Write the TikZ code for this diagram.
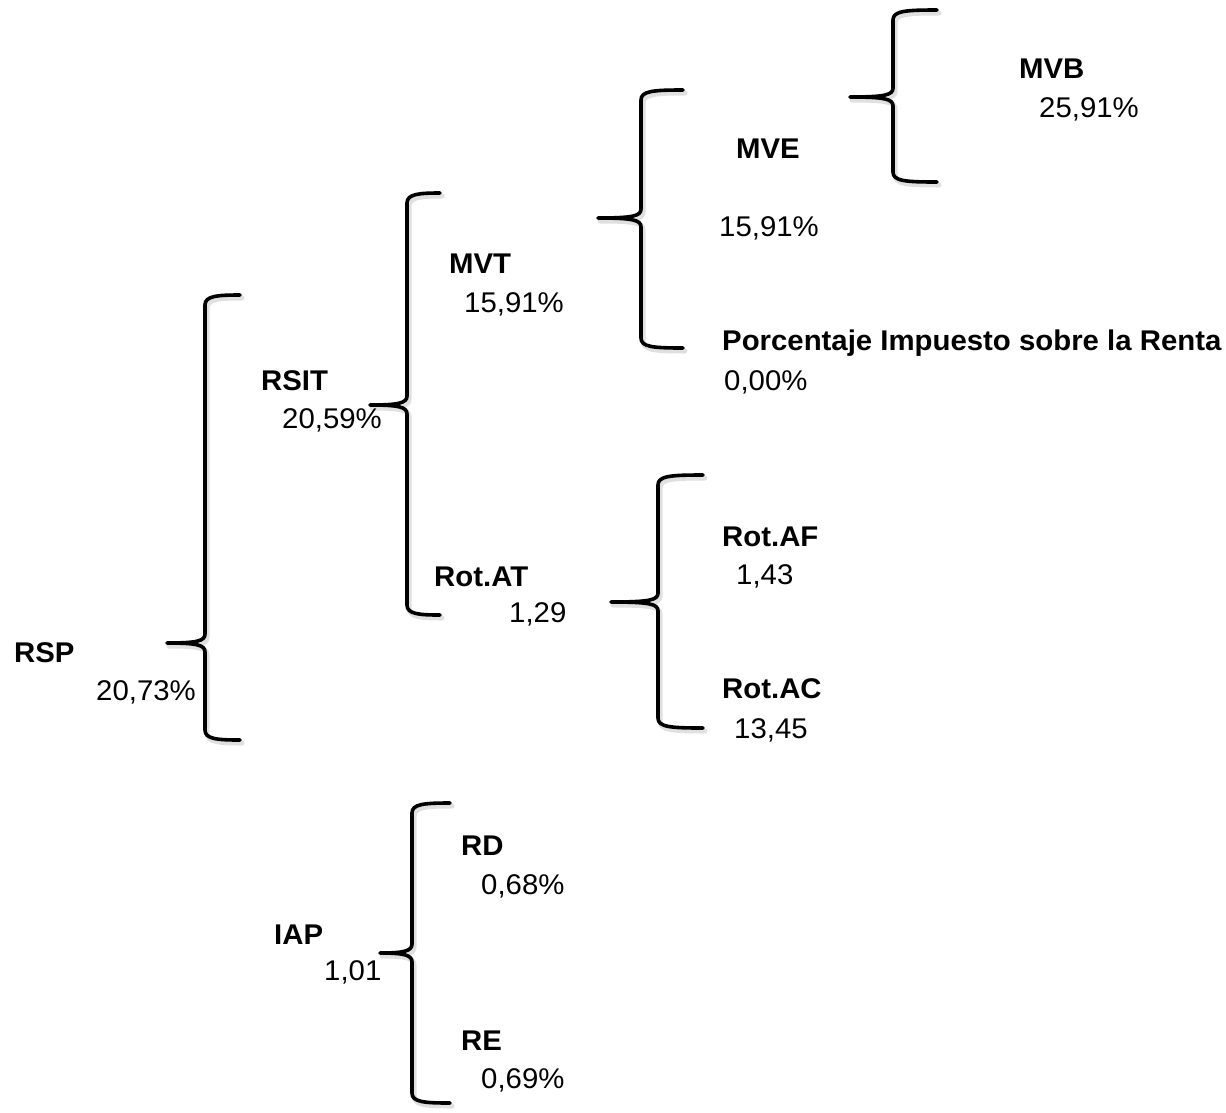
\documentclass[tikz,border=0pt]{standalone}
\usepackage{fontspec}
\setmainfont[FakeStretch=1.03]{Liberation Sans}
\usetikzlibrary{positioning}

% brace: x, y top, y cusp, y bottom, x cusp, x tip
\newcommand{\llave}[6]{%
  \draw[brace shadow] (#6,#2) .. controls (#1+12,#2) and (#1,#2+1) .. (#1,#2+10) -- (#1,#3-9)
    .. controls (#1,#3-2) and (#1-8,#3) .. (#5,#3)
    .. controls (#1-8,#3) and (#1,#3+2) .. (#1,#3+9) -- (#1,#4-10)
    .. controls (#1,#4-1) and (#1+12,#4) .. (#6,#4);
  \draw[brace] (#6,#2) .. controls (#1+12,#2) and (#1,#2+1) .. (#1,#2+10) -- (#1,#3-9)
    .. controls (#1,#3-2) and (#1-8,#3) .. (#5,#3)
    .. controls (#1-8,#3) and (#1,#3+2) .. (#1,#3+9) -- (#1,#4-10)
    .. controls (#1,#4-1) and (#1+12,#4) .. (#6,#4);
}

\begin{document}
\begin{tikzpicture}[
    x=1pt, y=-1pt,
    brace/.style={draw=black, line width=3.6pt, line cap=round, line join=round},
    brace shadow/.style={draw=black!12, line width=5pt, line cap=round, line join=round, shift={(2,3)}},
    ratio/.style={anchor=base west, inner sep=0pt, font=\fontsize{28.5}{33}\selectfont\bfseries},
    figure/.style={anchor=base west, inner sep=0pt, font=\fontsize{28.5}{33}\selectfont}
]
\useasboundingbox (0,0) rectangle (1226,1112);

% Braces
\llave{205}{295}{643}{740}{167}{240}
\llave{407}{193}{405}{615}{370}{440}
\llave{641}{90}{218}{348}{598}{683}
\llave{893}{10}{97}{182}{850}{937}
\llave{658}{475}{602}{728}{611}{703}
\llave{412}{803}{953}{1103}{380}{450}

% Level 0
\node[ratio] (rsp) at (14,662) {RSP};
\node[figure] (rspv) at (96,700) {20,73\%};

% Level 1
\node[ratio] (rsit) at (261,390) {RSIT};
\node[figure] (rsitv) at (282,428) {20,59\%};
\node[ratio] (iap) at (274,944) {IAP};
\node[figure] (iapv) at (324,980) {1,01};

% Level 2
\node[ratio] (mvt) at (449,273) {MVT};
\node[figure] (mvtv) at (464,312) {15,91\%};
\node[ratio] (rotat) at (434,586) {Rot.AT};
\node[figure] (rotatv) at (509,622) {1,29};
\node[ratio] (rd) at (461,855) {RD};
\node[figure] (rdv) at (481,894) {0,68\%};
\node[ratio] (re) at (461,1050) {RE};
\node[figure] (rev) at (481,1088) {0,69\%};

% Level 3
\node[ratio] (mve) at (736,158) {MVE};
\node[figure] (mvev) at (719,236) {15,91\%};
\node[ratio] (pir) at (722,350) {Porcentaje Impuesto sobre la Renta};
\node[figure] (pirv) at (724,390) {0,00\%};
\node[ratio] (rotaf) at (722,546) {Rot.AF};
\node[figure] (rotafv) at (736,584) {1,43};
\node[ratio] (rotac) at (722,698) {Rot.AC};
\node[figure] (rotacv) at (734,738) {13,45};

% Level 4
\node[ratio] (mvb) at (1019,78) {MVB};
\node[figure] (mvbv) at (1039,117) {25,91\%};

\end{tikzpicture}
\end{document}
